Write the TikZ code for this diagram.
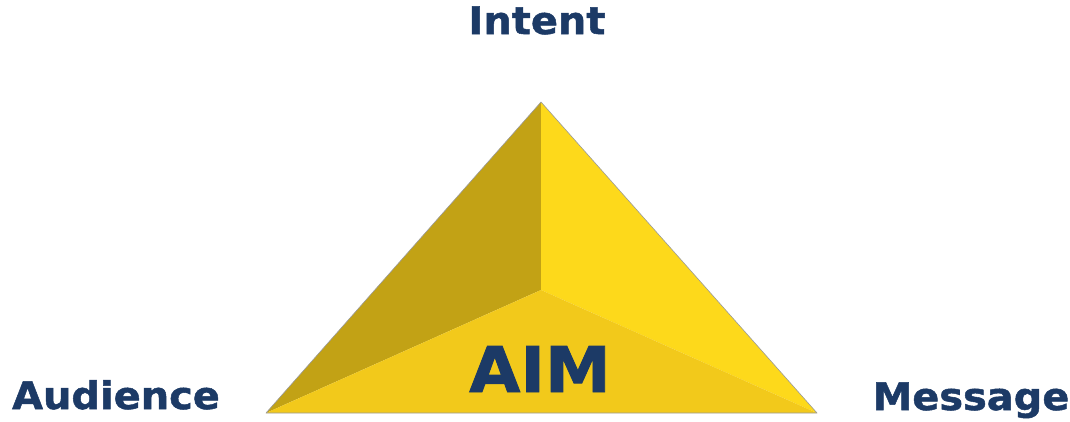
\documentclass[tikz,border=0pt]{standalone}
\usepackage{fontspec}
\setmainfont{DejaVu Sans}
\newfontfamily\lblfont{DejaVu Sans Bold}[FakeBold=1.3,FakeStretch=1.05]
\definecolor{navy}{HTML}{1C3A66}
\definecolor{faceL}{HTML}{C2A215}
\definecolor{faceR}{HTML}{FDD91B}
\definecolor{faceB}{HTML}{F2C91B}
\definecolor{edge}{HTML}{9A9A9A}
\begin{document}
\begin{tikzpicture}[x=1pt,y=-1pt,
  lbl/.style={font=\lblfont\fontsize{38}{42}\selectfont, text=navy, inner sep=0pt, anchor=base},
  face/.style={draw=edge, line width=0.6pt, line join=round}]
\useasboundingbox (0,0) rectangle (1070,421);
\coordinate (top) at (541,102);
\coordinate (bl) at (266,413);
\coordinate (br) at (817,413);
\coordinate (c) at (541,290);
\fill[faceL] (top) -- (bl) -- (c) -- cycle;
\fill[faceR] (top) -- (c) -- (br) -- cycle;
\fill[faceB] (bl) -- (c) -- (br) -- cycle;
\draw[face] (top) -- (bl) -- (br) -- cycle;
\node[lbl] (intent) at (537,34) {Intent};
\node[lbl] (aud) at (116,409) {Audience};
\node[lbl] (msg) at (971,410) {Message};
\node[lbl, font=\lblfont\fontsize{63}{67}\selectfont] (aim) at (540,392) {AIM};
\end{tikzpicture}
\end{document}
